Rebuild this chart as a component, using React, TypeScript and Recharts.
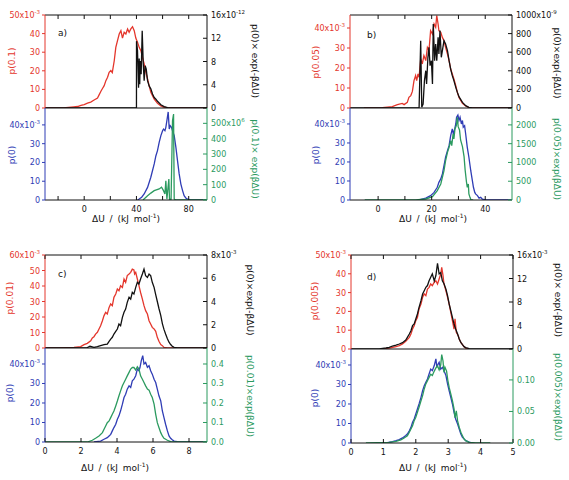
import { Line, LineChart, XAxis, YAxis } from 'recharts'

// Four panels a)-d), each an upper/lower pair of histograms with twin y axes.
// Values are [ΔU (kJ/mol), height] pairs, heights in the units shown on each axis
// (e.g. the p(0.1) curve is stored in units of 1e-3).

type Pt = [number, number]

const FONT = '"DejaVu Sans", Verdana, sans-serif'
const RED = '#e4362c'
const BLACK = '#111111'
const BLUE = '#2f3cb5'
const GREEN = '#2b9a5f'

// ---- panel a) ----
const aRed: Pt[] = [
  [-30, 0], [-16, 0], [-12, 0.3], [-8, 0.6], [-5, 0.8], [-2.5, 1.4], [0, 1.8], [2.5, 2.6], [5, 3.2],
  [7.6, 4.3], [10.2, 5.4], [11.5, 7.2], [12.8, 9], [14, 10.5], [15.3, 12], [16.6, 14.7], [17.9, 16.5],
  [19.1, 19.2], [20.4, 20.1], [21.5, 19], [23, 25.4], [24.2, 32.6], [25.5, 36.2], [26.8, 39.8],
  [28.1, 41.6], [29.3, 37.6], [30.6, 40.7], [31.9, 39.8], [33.2, 42.5], [34.4, 40.7], [35.7, 42.5],
  [37, 43.7], [38.3, 41.6], [39.5, 37.6], [40.8, 35.3], [42.1, 32.6], [43.4, 30.8], [44.6, 27.2],
  [45.9, 23.7], [47.2, 19.2], [48.5, 15.6], [49.7, 12], [51, 8.4], [53.6, 4.8], [56.1, 2.5],
  [58.7, 1.1], [61.2, 0.4], [63.8, 0], [94, 0],
]
const aBlack: Pt[] = [
  [-30, 0], [40, 0], [40.05, 11.5], [40.8, 9.9], [41.3, 6], [41.6, 3.5], [42.1, 8.5], [42.5, 4.1],
  [42.9, 8.1], [43.6, 5.8], [44.4, 13.3], [45.2, 7.6], [45.9, 4.7], [46.7, 7.3], [47.5, 6.7],
  [48.5, 4.7], [49.7, 3.8], [51, 3.3], [52.3, 2.4], [53.6, 1.8], [54.9, 1.5], [56.1, 1.15],
  [58.7, 0.57], [61.2, 0.23], [63.8, 0.06], [68.9, 0], [94, 0],
]
const aBlue: Pt[] = [
  [40.8, 0], [42.1, 0.5], [44, 1.5], [45.9, 3.2], [48.5, 6.7], [51, 12.1], [53.6, 19.2], [54.9, 23.6],
  [56.1, 26.3], [57.4, 30.7], [58.7, 34.3], [60, 36.9], [60.7, 37.8], [61.8, 36.9], [62.5, 38.7],
  [63.3, 42.3], [64.3, 46.9], [65.1, 37.8], [65.8, 39.6], [66.8, 38.7], [67.6, 36.9], [68.9, 34.3],
  [70.2, 28], [71.4, 21.1], [72.7, 13.9], [74, 8.5], [75.3, 5], [76.5, 2.3], [77.8, 1.1], [79.1, 0.4],
  [81.6, 0], [94, 0],
]
const aGreen: Pt[] = [
  [45, 0], [48.5, 28], [51, 45], [53.6, 61], [57.4, 72], [59.2, 83], [60.7, 61], [61.8, 39],
  [62.5, 126], [63.3, 6], [64.8, 137], [65.3, 5], [66.5, 5], [67.6, 517], [68.4, 561], [68.9, 6],
  [70, 0], [94, 0],
]

// ---- panel b) ----
const bRed: Pt[] = [
  [-5.3, 0], [1.6, 0.2], [5.3, 0.7], [7.2, 1.7], [9, 2.3], [9.7, 1.7], [10.9, 2.8], [11.5, 5.3],
  [12.2, 6.2], [12.8, 8.3], [13.4, 13.7], [14, 16.2], [14.4, 13.7], [14.9, 17], [15.3, 15.3],
  [15.9, 24.5], [16.5, 22], [17.1, 26.2], [17.8, 23.7], [18.4, 30.3], [19, 28.7], [19.6, 38.7],
  [20.3, 37], [20.9, 42], [21.5, 40.3], [21.9, 46.2], [22.4, 42], [22.7, 38.7], [23.4, 37.8],
  [24, 35.3], [24.6, 33.7], [25.2, 30.3], [25.9, 27], [26.5, 23.7], [27.1, 19.5], [27.7, 17],
  [28.3, 14.5], [29, 11.2], [29.6, 7.8], [30.2, 5.3], [31.5, 2.3], [32.7, 1], [33.9, 0.2], [35.2, 0],
  [50, 0],
]
const bBlack: Pt[] = [
  [-10.5, 0], [15.3, 0], [15.9, 724], [16.3, 7], [16.8, 43], [17.3, 294], [17.8, 401], [18.1, 258],
  [18.6, 545], [19, 652], [19.4, 455], [19.9, 509], [20.3, 258], [20.6, 903], [21.1, 509],
  [21.5, 688], [21.9, 509], [22.4, 760], [22.7, 581], [23.1, 832], [23.6, 545], [24, 616],
  [24.6, 724], [25.2, 688], [25.9, 616], [26.5, 509], [27.1, 419], [27.7, 348], [28.3, 294],
  [29, 222], [29.6, 168], [30.2, 122], [31.5, 61], [32.7, 25], [33.9, 7], [35.2, 0], [50, 0],
]
const bBlue: Pt[] = [
  [15.3, 0], [17.8, 1], [19.6, 2.3], [20.9, 4], [22.1, 6.7], [22.7, 9.3], [23.4, 11.1], [24, 13.7],
  [24.6, 18.1], [25.2, 22.5], [25.9, 26], [26.5, 28.6], [27.1, 33.9], [27.7, 37.4], [28.1, 34.7],
  [28.6, 37.4], [29, 40], [29.3, 43.5], [29.8, 44.7], [30.2, 41.8], [30.6, 43.5], [31.1, 40],
  [31.5, 41.8], [31.8, 38.3], [32.3, 39.1], [32.7, 34.7], [33.3, 27.7], [33.9, 22.5], [34.6, 15.4],
  [35.2, 10.2], [35.6, 6.7], [36.1, 4], [36.4, 3.2], [37.1, 2.3], [37.7, 1], [38.3, 1.4], [38.9, 0.5],
  [40.2, 0], [50, 0],
]
const bGreen: Pt[] = [
  [-5, 0], [14, 0], [17.8, 27], [20.3, 89], [22.1, 249], [23.4, 426], [24.6, 781], [25.2, 1048],
  [25.9, 1270], [26.5, 1403], [27.1, 1580], [27.5, 1447], [28, 1758], [28.3, 1625], [28.7, 1891],
  [29.2, 1980], [29.6, 2202], [29.9, 1953], [30.4, 1864], [30.8, 1598], [31.5, 1420], [32.1, 1154],
  [32.5, 799], [33, 479], [33.3, 337], [33.7, 426], [33.9, 160], [34.3, 71], [34.7, 0], [35.5, 0],
]

// ---- panel c) ----
const cRed: Pt[] = [
  [0, 0], [0.8, 0], [1.2, 0.3], [1.61, 0.4], [1.98, 0.9], [2.17, 2.2], [2.35, 3], [2.54, 4.7],
  [2.63, 6.5], [2.72, 7.3], [2.81, 9], [2.91, 10.1], [3, 12.3], [3.09, 14.4], [3.19, 17.6],
  [3.28, 20.9], [3.37, 23], [3.46, 21.9], [3.56, 26.2], [3.65, 28.4], [3.74, 27.3], [3.83, 32.7],
  [3.93, 34.8], [4.02, 38.1], [4.11, 37], [4.2, 40.2], [4.3, 39.1], [4.39, 44.5], [4.48, 42.4],
  [4.57, 46.7], [4.67, 47.7], [4.76, 48.8], [4.85, 50.9], [4.94, 50.3], [4.98, 47.7], [5.04, 48.8],
  [5.13, 44.5], [5.22, 40.2], [5.31, 35.8], [5.41, 31.5], [5.5, 27.3], [5.59, 24.1], [5.69, 21.9],
  [5.78, 17.6], [5.87, 15.5], [5.96, 13.3], [6.06, 12.3], [6.15, 10.8], [6.24, 6.9], [6.33, 4.3],
  [6.43, 2.2], [6.52, 1.5], [6.61, 0.4], [6.8, 0], [9, 0],
]
const cBlack: Pt[] = [
  [0, 0], [2.3, 0], [2.5, 0.15], [2.72, 0.05], [2.91, 0.11], [3.09, 0.2], [3.28, 0.29], [3.46, 0.34],
  [3.56, 0.57], [3.65, 0.77], [3.74, 0.92], [3.83, 1.2], [3.93, 1.43], [4.02, 1.63], [4.11, 2.06],
  [4.2, 1.92], [4.3, 2.64], [4.39, 3.07], [4.48, 3.35], [4.57, 3.93], [4.67, 4.36], [4.76, 4.21],
  [4.85, 4.79], [4.94, 4.64], [5.04, 5.22], [5.13, 5.65], [5.22, 5.5], [5.31, 5.93], [5.41, 6.36],
  [5.5, 6.79], [5.59, 6.22], [5.69, 6.07], [5.78, 6.36], [5.87, 6.22], [5.96, 5.65], [6.06, 5.22],
  [6.15, 4.6], [6.24, 4], [6.33, 3.4], [6.43, 2.8], [6.52, 2.1], [6.61, 1.6], [6.7, 1.2], [6.8, 0.8],
  [6.89, 0.5], [6.98, 0.3], [7.07, 0.15], [7.17, 0.05], [7.35, 0], [9, 0],
]
const cBlue: Pt[] = [
  [2.72, 0], [3.09, 0.5], [3.28, 1.4], [3.46, 2.2], [3.56, 3.1], [3.65, 3.9], [3.74, 5.7], [3.83, 7.4],
  [3.93, 9.1], [4.02, 11.7], [4.11, 13.4], [4.2, 16], [4.3, 19.4], [4.39, 22.8], [4.48, 24.5],
  [4.57, 27.1], [4.67, 28.8], [4.76, 28], [4.85, 31.4], [4.94, 32.2], [5.04, 34], [5.13, 37.4],
  [5.22, 36.5], [5.28, 38.3], [5.35, 41.7], [5.43, 44.3], [5.5, 40], [5.59, 40.8], [5.69, 38.3],
  [5.78, 39.1], [5.87, 36.5], [5.96, 34.8], [6.06, 32.2], [6.15, 30.5], [6.24, 27.1], [6.33, 23.7],
  [6.43, 21.1], [6.52, 15.9], [6.61, 12.5], [6.7, 9.1], [6.8, 5.7], [6.89, 3.1], [6.98, 1.9],
  [7.07, 1.2], [7.17, 0.5], [7.35, 0.2], [7.54, 0], [9, 0],
]
const cGreen: Pt[] = [
  [0, 0], [2.35, 0], [2.63, 0.009], [2.81, 0.019], [3, 0.031], [3.19, 0.048], [3.28, 0.065],
  [3.37, 0.082], [3.46, 0.099], [3.56, 0.108], [3.65, 0.125], [3.74, 0.142], [3.83, 0.159],
  [3.93, 0.185], [4.02, 0.21], [4.11, 0.237], [4.2, 0.262], [4.3, 0.288], [4.39, 0.305],
  [4.48, 0.322], [4.57, 0.339], [4.67, 0.357], [4.76, 0.374], [4.85, 0.382], [4.94, 0.382],
  [5.04, 0.369], [5.13, 0.386], [5.22, 0.374], [5.31, 0.339], [5.41, 0.322], [5.5, 0.305],
  [5.59, 0.288], [5.69, 0.271], [5.78, 0.266], [5.87, 0.245], [5.96, 0.228], [6.06, 0.194],
  [6.15, 0.142], [6.24, 0.099], [6.33, 0.074], [6.43, 0.048], [6.52, 0.031], [6.61, 0.019],
  [6.8, 0.009], [6.98, 0.002], [7.17, 0], [9, 0],
]

// ---- panel d) ----
const dRed: Pt[] = [
  [0.97, 0], [1.18, 0.5], [1.39, 1.2], [1.49, 1.8], [1.59, 2.7], [1.69, 4.1], [1.8, 6.2], [1.85, 8],
  [1.9, 10.6], [1.95, 12.4], [2, 15.1], [2.05, 16.8], [2.1, 21.3], [2.16, 23.9], [2.21, 27.5],
  [2.26, 29.3], [2.31, 28.4], [2.36, 31.9], [2.41, 32.8], [2.46, 34.6], [2.51, 33.7], [2.57, 35.5],
  [2.62, 36.3], [2.67, 34.6], [2.72, 37.2], [2.77, 39.9], [2.8, 43.4], [2.84, 39], [2.87, 34.6],
  [2.93, 31], [2.98, 27.5], [3.03, 23.9], [3.08, 19.5], [3.13, 15.1], [3.18, 10.6], [3.21, 16],
  [3.25, 8.9], [3.31, 7.1], [3.34, 5.3], [3.39, 3.5], [3.44, 2.3], [3.49, 1.2], [3.54, 0.5], [3.65, 0],
]
const dBlack: Pt[] = [
  [0, 0], [0.87, 0], [1.08, 0.17], [1.18, 0.28], [1.28, 0.51], [1.39, 0.68], [1.49, 0.85],
  [1.59, 1.08], [1.69, 1.53], [1.74, 1.99], [1.8, 2.55], [1.85, 3.12], [1.9, 3.97], [1.95, 4.26],
  [2, 5.11], [2.05, 5.96], [2.1, 7.09], [2.16, 8.23], [2.21, 9.36], [2.26, 9.93], [2.31, 10.5],
  [2.36, 10.8], [2.41, 11.6], [2.46, 12.2], [2.51, 12.8], [2.57, 11.6], [2.62, 12.5], [2.67, 14.6],
  [2.72, 12.8], [2.77, 13], [2.82, 11.6], [2.87, 11.1], [2.93, 10.2], [2.98, 9.08], [3.03, 7.66],
  [3.08, 6.52], [3.13, 5.39], [3.18, 4.26], [3.23, 3.4], [3.29, 2.55], [3.34, 1.7], [3.39, 1.13],
  [3.44, 0.74], [3.49, 0.4], [3.54, 0.23], [3.65, 0.06], [3.85, 0], [5, 0],
]
const dBlue: Pt[] = [
  [1.08, 0], [1.28, 0.7], [1.39, 1.2], [1.49, 1.7], [1.59, 2.6], [1.69, 3.8], [1.74, 4.6], [1.8, 6.3],
  [1.85, 8], [1.9, 10.6], [1.95, 12.3], [2, 14.9], [2.05, 17.4], [2.1, 20], [2.16, 23.4], [2.21, 26.8],
  [2.26, 29.4], [2.31, 31.1], [2.36, 32.8], [2.41, 35.4], [2.46, 37.9], [2.51, 37.1], [2.57, 39.7],
  [2.62, 43.1], [2.65, 38.8], [2.69, 40.5], [2.72, 41.4], [2.77, 37.9], [2.82, 38.8], [2.87, 37.1],
  [2.93, 34.6], [2.98, 30.3], [3.03, 26.8], [3.08, 23.4], [3.13, 20], [3.18, 15.7], [3.23, 12.3],
  [3.29, 9.7], [3.34, 7.2], [3.39, 4.6], [3.44, 2.9], [3.49, 2.1], [3.54, 1.2], [3.65, 0.5], [3.75, 0],
]
const dGreen: Pt[] = [
  [0.46, 0], [1.18, 0.001], [1.39, 0.0026], [1.54, 0.0048], [1.64, 0.008], [1.74, 0.0116],
  [1.8, 0.017], [1.85, 0.0222], [1.9, 0.0275], [1.95, 0.0354], [2, 0.0407], [2.05, 0.0487],
  [2.1, 0.0566], [2.16, 0.0667], [2.21, 0.0751], [2.26, 0.0857], [2.31, 0.0937], [2.36, 0.0989],
  [2.41, 0.104], [2.46, 0.109], [2.51, 0.107], [2.57, 0.114], [2.62, 0.119], [2.67, 0.122],
  [2.72, 0.116], [2.77, 0.124], [2.8, 0.14], [2.84, 0.13], [2.87, 0.112], [2.9, 0.12], [2.95, 0.114],
  [2.99, 0.099], [3.03, 0.088], [3.08, 0.078], [3.13, 0.067], [3.18, 0.054], [3.21, 0.04],
  [3.25, 0.051], [3.29, 0.035], [3.34, 0.025], [3.39, 0.017], [3.44, 0.0116], [3.49, 0.0063],
  [3.54, 0.0037], [3.65, 0.001], [3.85, 0], [4.3, 0],
]

// ---- axis setup ----
type YSpec = {
  domain: [number, number]
  ticks: number[]
  color: string
  digits?: number
  exp?: { at: number; base: string; sup: string }
}

const LW = 46
const RW = 50
const TM = 6
const BM = 24
const UPPER_BM = 8 // room below an upper plot so its "0" labels are not clipped
const TICK_FS = 8

function rows(pts: Pt[]) {
  return pts.map(([x, y]) => ({ x, y }))
}

function tickText(spec: YSpec, v: number) {
  if (spec.exp && spec.exp.at === v) {
    return (
      <>
        {spec.exp.base}
        <tspan dy={-4} fontSize={5.5}>
          {spec.exp.sup}
        </tspan>
      </>
    )
  }
  return spec.digits ? v.toFixed(spec.digits) : String(v)
}

// left axis: ticks point outward
function leftTick(spec: YSpec) {
  return (p: any) => {
    const { x, y, payload } = p
    return (
      <g>
        <line x1={x} x2={x - 3} y1={y} y2={y} stroke={spec.color} />
        <text x={x - 5} y={y + 3} textAnchor="end" fill={spec.color} fontSize={TICK_FS} fontFamily={FONT}>
          {tickText(spec, payload.value)}
        </text>
      </g>
    )
  }
}

// right axis: ticks point into the plot
function rightTick(spec: YSpec) {
  return (p: any) => {
    const { x, y, payload } = p
    return (
      <g>
        <line x1={x} x2={x - 4} y1={y} y2={y} stroke={spec.color} />
        <text x={x + 4} y={y + 3} textAnchor="start" fill={spec.color} fontSize={TICK_FS} fontFamily={FONT}>
          {tickText(spec, payload.value)}
        </text>
      </g>
    )
  }
}

function topTick(p: any) {
  return <line x1={p.x} x2={p.x} y1={p.y} y2={p.y + 4} stroke={BLACK} />
}

function bottomTick(labels: number[]) {
  return (p: any) => {
    const { x, y, payload } = p
    return (
      <g>
        <line x1={x} x2={x} y1={y} y2={y - 4} stroke={BLACK} />
        {labels.includes(payload.value) && (
          <text x={x} y={y + 12} textAnchor="middle" fill={BLACK} fontSize={TICK_FS} fontFamily={FONT}>
            {payload.value}
          </text>
        )}
      </g>
    )
  }
}

type SubProps = {
  x: number
  y: number
  w: number
  h: number
  xDomain: [number, number]
  xTicks: number[]
  xLabels?: number[]
  upper?: boolean
  ly: YSpec
  ry: YSpec
  lData: Pt[]
  rData: Pt[]
}

function SubPlot(p: SubProps) {
  const bm = p.upper ? UPPER_BM : BM
  return (
    <div style={{ position: 'absolute', left: p.x - LW, top: p.y - TM }}>
      <LineChart
        width={LW + p.w + RW}
        height={TM + p.h + bm}
        margin={{ top: p.upper ? 0 : TM, right: 0, bottom: 0, left: 0 }}
      >
        {p.upper && (
          <XAxis
            xAxisId="t"
            orientation="top"
            type="number"
            dataKey="x"
            domain={p.xDomain}
            allowDataOverflow
            ticks={p.xTicks}
            interval={0}
            height={TM}
            tickSize={0}
            tickMargin={0}
            tickLine={false}
            axisLine={{ stroke: BLACK }}
            tick={topTick}
          />
        )}
        <XAxis
          xAxisId="b"
          type="number"
          dataKey="x"
          domain={p.xDomain}
          allowDataOverflow
          ticks={p.xTicks}
          interval={0}
          height={bm}
          tickSize={0}
          tickMargin={0}
          tickLine={false}
          axisLine={{ stroke: BLACK }}
          tick={p.upper ? false : bottomTick(p.xLabels ?? p.xTicks)}
        />
        <YAxis
          yAxisId="l"
          type="number"
          domain={p.ly.domain}
          allowDataOverflow
          ticks={p.ly.ticks}
          interval={0}
          width={LW}
          tickSize={0}
          tickMargin={0}
          tickLine={false}
          axisLine={{ stroke: p.ly.color }}
          tick={leftTick(p.ly)}
        />
        <YAxis
          yAxisId="r"
          orientation="right"
          type="number"
          domain={p.ry.domain}
          allowDataOverflow
          ticks={p.ry.ticks}
          interval={0}
          width={RW}
          tickSize={0}
          tickMargin={0}
          tickLine={false}
          axisLine={{ stroke: p.ry.color }}
          tick={rightTick(p.ry)}
        />
        <Line
          xAxisId="b"
          yAxisId="l"
          data={rows(p.lData)}
          dataKey="y"
          stroke={p.ly.color}
          strokeWidth={1.3}
          dot={false}
          isAnimationActive={false}
        />
        <Line
          xAxisId="b"
          yAxisId="r"
          data={rows(p.rData)}
          dataKey="y"
          stroke={p.ry.color}
          strokeWidth={1.3}
          dot={false}
          isAnimationActive={false}
        />
      </LineChart>
    </div>
  )
}

const milli = (top: number, ticks: number[], color: string, domain: [number, number]): YSpec => ({
  domain,
  ticks,
  color,
  exp: { at: top, base: `${top}x10`, sup: '-3' },
})

const blueAxis = (max: number) => milli(40, [0, 10, 20, 30, 40], BLUE, [0, max])

function VLabel({ x, y, rot, color, children }: { x: number; y: number; rot: number; color: string; children: any }) {
  return (
    <text
      x={x}
      y={y}
      transform={`rotate(${rot} ${x} ${y})`}
      textAnchor="middle"
      dominantBaseline="central"
      fill={color}
      fontSize={9}
      fontFamily={FONT}
    >
      {children}
    </text>
  )
}

function XLabel({ x, y }: { x: number; y: number }) {
  return (
    <text x={x} y={y} textAnchor="middle" fontSize={9} fontFamily={FONT} fill={BLACK} wordSpacing={2}>
      ΔU / (kJ mol
      <tspan dy={-4} fontSize={6}>
        -1
      </tspan>
      <tspan dy={4}>)</tspan>
    </text>
  )
}

export default function App() {
  return (
    <div style={{ position: 'absolute', left: 0, top: 0, width: 569, height: 480, background: '#fff' }}>
      {/* a) */}
      <SubPlot
        upper
        x={45} y={15} w={162} h={93}
        xDomain={[-30, 94]} xTicks={[-20, 0, 20, 40, 60, 80]}
        ly={milli(50, [0, 10, 20, 30, 40, 50], RED, [0, 50])}
        ry={{ domain: [0, 16], ticks: [0, 4, 8, 12, 16], color: BLACK, exp: { at: 16, base: '16x10', sup: '-12' } }}
        lData={aRed} rData={aBlack}
      />
      <SubPlot
        x={45} y={108} w={162} h={92}
        xDomain={[-30, 94]} xTicks={[-20, 0, 20, 40, 60, 80]} xLabels={[0, 40, 80]}
        ly={blueAxis(49)}
        ry={{ domain: [0, 600], ticks: [0, 100, 200, 300, 400, 500], color: GREEN, exp: { at: 500, base: '500x10', sup: '6' } }}
        lData={aBlue} rData={aGreen}
      />
      {/* b) */}
      <SubPlot
        upper
        x={350} y={15} w={162} h={93}
        xDomain={[-10.5, 50]} xTicks={[0, 10, 20, 30, 40]}
        ly={milli(40, [0, 10, 20, 30, 40], RED, [0, 46.5])}
        ry={{ domain: [0, 1000], ticks: [0, 200, 400, 600, 800, 1000], color: BLACK, exp: { at: 1000, base: '1000x10', sup: '-9' } }}
        lData={bRed} rData={bBlack}
      />
      <SubPlot
        x={350} y={108} w={162} h={92}
        xDomain={[-10.5, 50]} xTicks={[0, 10, 20, 30, 40]} xLabels={[0, 20, 40]}
        ly={blueAxis(48.4)}
        ry={{ domain: [0, 2450], ticks: [0, 500, 1000, 1500, 2000], color: GREEN }}
        lData={bBlue} rData={bGreen}
      />
      {/* c) */}
      <SubPlot
        upper
        x={45} y={255} w={162} h={93}
        xDomain={[0, 9]} xTicks={[0, 2, 4, 6, 8]}
        ly={milli(60, [0, 10, 20, 30, 40, 50, 60], RED, [0, 60])}
        ry={{ domain: [0, 8], ticks: [0, 2, 4, 6, 8], color: BLACK, exp: { at: 8, base: '8x10', sup: '-3' } }}
        lData={cRed} rData={cBlack}
      />
      <SubPlot
        x={45} y={348} w={162} h={94}
        xDomain={[0, 9]} xTicks={[0, 2, 4, 6, 8]}
        ly={blueAxis(48.2)}
        ry={{ domain: [0, 0.482], ticks: [0, 0.1, 0.2, 0.3, 0.4], color: GREEN, digits: 1 }}
        lData={cBlue} rData={cGreen}
      />
      {/* d) */}
      <SubPlot
        upper
        x={351} y={255} w={162} h={94}
        xDomain={[0, 5]} xTicks={[0, 1, 2, 3, 4, 5]}
        ly={milli(50, [0, 10, 20, 30, 40, 50], RED, [0, 50])}
        ry={{ domain: [0, 16], ticks: [0, 4, 8, 12, 16], color: BLACK, exp: { at: 16, base: '16x10', sup: '-3' } }}
        lData={dRed} rData={dBlack}
      />
      <SubPlot
        x={351} y={349} w={162} h={94}
        xDomain={[0, 5]} xTicks={[0, 1, 2, 3, 4, 5]}
        ly={blueAxis(48.2)}
        ry={{ domain: [0, 0.149], ticks: [0, 0.05, 0.1], color: GREEN, digits: 2 }}
        lData={dBlue} rData={dGreen}
      />

      <svg width={569} height={480} style={{ position: 'absolute', left: 0, top: 0, pointerEvents: 'none' }}>
        <text x={58} y={36} fontSize={9} fontFamily={FONT} fill={BLACK}>a)</text>
        <text x={367} y={38} fontSize={9} fontFamily={FONT} fill={BLACK}>b)</text>
        <text x={58} y={277} fontSize={9} fontFamily={FONT} fill={BLACK}>c)</text>
        <text x={367} y={280} fontSize={9} fontFamily={FONT} fill={BLACK}>d)</text>

        <VLabel x={12} y={61} rot={-90} color={RED}>p(0.1)</VLabel>
        <VLabel x={12} y={155} rot={-90} color={BLUE}>p(0)</VLabel>
        <VLabel x={255} y={61} rot={90} color={BLACK}>p(0)× exp(-βΔU)</VLabel>
        <VLabel x={255} y={159} rot={90} color={GREEN}>p(0.1)× exp(βΔU)</VLabel>

        <VLabel x={316} y={62} rot={-90} color={RED}>p(0.05)</VLabel>
        <VLabel x={316} y={155} rot={-90} color={BLUE}>p(0)</VLabel>
        <VLabel x={557} y={63} rot={90} color={BLACK}>p(0)×exp(-βΔU)</VLabel>
        <VLabel x={557} y={159} rot={90} color={GREEN}>p(0.05)×exp(βΔU)</VLabel>

        <VLabel x={10} y={298} rot={-90} color={RED}>p(0.01)</VLabel>
        <VLabel x={10} y={393} rot={-90} color={BLUE}>p(0)</VLabel>
        <VLabel x={250} y={300} rot={90} color={BLACK}>p(0)×exp(-βΔU)</VLabel>
        <VLabel x={250} y={396} rot={90} color={GREEN}>p(0.01)×exp(βΔU)</VLabel>

        <VLabel x={315} y={301} rot={-90} color={RED}>p(0.005)</VLabel>
        <VLabel x={315} y={398} rot={-90} color={BLUE}>p(0)</VLabel>
        <VLabel x={558} y={300} rot={90} color={BLACK}>p(0)× exp(-βΔU)</VLabel>
        <VLabel x={558} y={397} rot={90} color={GREEN}>p(0.005)×exp(βΔU)</VLabel>

        <XLabel x={126} y={222} />
        <XLabel x={433} y={222} />
        <XLabel x={115} y={471} />
        <XLabel x={433} y={471} />
      </svg>
    </div>
  )
}
